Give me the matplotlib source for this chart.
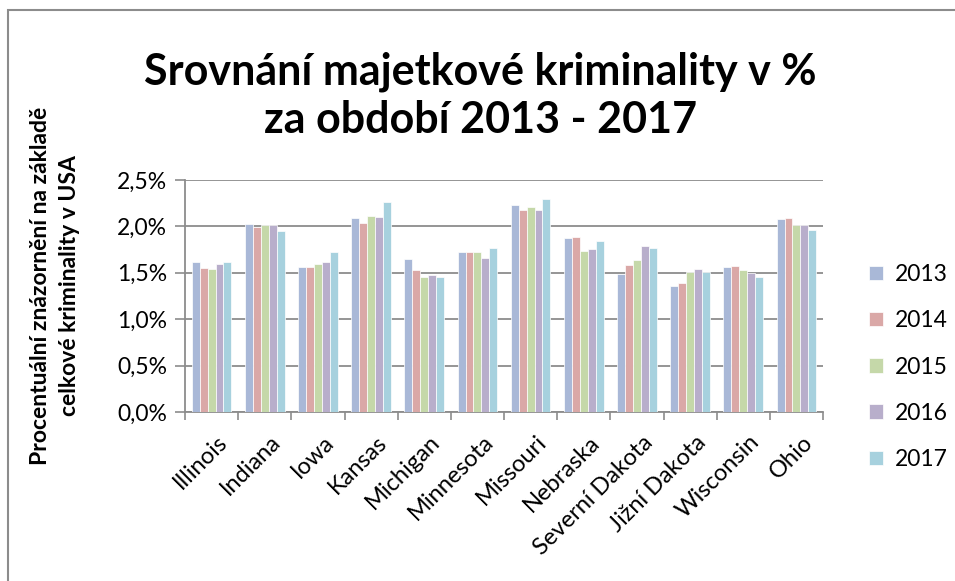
import matplotlib
matplotlib.use("Agg")
import matplotlib.pyplot as plt
import numpy as np
from matplotlib.patches import Rectangle
from matplotlib.ticker import FuncFormatter, FixedLocator

plt.rcParams['font.family'] = ['Lato', 'DejaVu Sans']

states = ['Illinois', 'Indiana', 'Iowa', 'Kansas', 'Michigan', 'Minnesota',
          'Missouri', 'Nebraska', 'Severní Dakota', 'Jižní Dakota', 'Wisconsin', 'Ohio']
years = ['2013', '2014', '2015', '2016', '2017']

# podíl majetkové kriminality (% z celku USA)
y2013 = [1.62, 2.03, 1.56, 2.09, 1.65, 1.72, 2.23, 1.87, 1.49, 1.36, 1.56, 2.08]
y2014 = [1.55, 1.99, 1.56, 2.04, 1.53, 1.72, 2.18, 1.89, 1.58, 1.39, 1.57, 2.09]
y2015 = [1.54, 2.01, 1.59, 2.11, 1.46, 1.72, 2.21, 1.74, 1.64, 1.51, 1.53, 2.01]
y2016 = [1.59, 2.02, 1.62, 2.10, 1.48, 1.66, 2.18, 1.76, 1.79, 1.54, 1.50, 2.01]
y2017 = [1.62, 1.95, 1.72, 2.26, 1.45, 1.77, 2.29, 1.84, 1.77, 1.51, 1.45, 1.96]
series = [y2013, y2014, y2015, y2016, y2017]
colors = ['#a9b8d7', '#daa8a7', '#c5d8a9', '#b8aecb', '#a7d1de']

fig = plt.figure(figsize=(9.55, 5.81), dpi=100)
ax = fig.add_axes([185/955, 1 - 412/581, 638/955, 232/581])

x = np.arange(len(states))
w = 0.149
for i, (vals, c, lab) in enumerate(zip(series, colors, years)):
    ax.bar(x + (i - 2) * w, vals, w, color=c, edgecolor='white', linewidth=0.5,
           label=lab, zorder=3)

ax.set_xlim(-0.5, len(states) - 0.5)
ax.set_ylim(0, 2.5)
ax.set_yticks(np.arange(0, 2.51, 0.5))
ax.yaxis.set_major_formatter(FuncFormatter(lambda v, p: f'{v:.1f}%'.replace('.', ',')))
ax.grid(axis='y', color='#8c8c8c', linewidth=1.3, zorder=0)

ax.set_xticks(x + 0.1)
ax.set_xticklabels(states, rotation=45, ha='right', rotation_mode='anchor', fontsize=17)
ax.xaxis.set_minor_locator(FixedLocator(np.arange(-0.5, len(states), 1)))
ax.tick_params(axis='x', which='major', length=0, pad=14)
ax.tick_params(axis='x', which='minor', length=6, color='#8c8c8c', width=1.2)
ax.tick_params(axis='y', length=7, color='#8c8c8c', width=1.2, labelsize=16.5, pad=6)

for s in ['top', 'right']:
    ax.spines[s].set_visible(False)
for s in ['left', 'bottom']:
    ax.spines[s].set_color('#8c8c8c')
    ax.spines[s].set_linewidth(1.3)

fig.text(0.503, 1 - 96/581, 'Srovnání majetkové kriminality v %\nza období 2013 - 2017',
         ha='center', va='center', fontsize=31, fontweight='bold', linespacing=1.25)
fig.text(55/955, 1 - 286/581, 'Procentuální znázornění na základě\ncelkové kriminality v USA',
         ha='center', va='center', rotation=90, fontsize=16.5, fontweight='bold',
         multialignment='center', linespacing=1.5)

fig.legend(loc='center left', bbox_to_anchor=(858/955, 1 - 367/581), frameon=False,
           fontsize=16.5, handlelength=0.6, handleheight=0.6, handletextpad=0.5,
           labelspacing=1.1, borderpad=0)

# rámeček grafu
fig.patches.append(Rectangle((8/955, -0.05), 1.0, 1 - 10/581 + 0.05,
                             transform=fig.transFigure, fill=False,
                             edgecolor='#8c8c8c', linewidth=1.5))

fig.savefig('out.png', dpi=100)
